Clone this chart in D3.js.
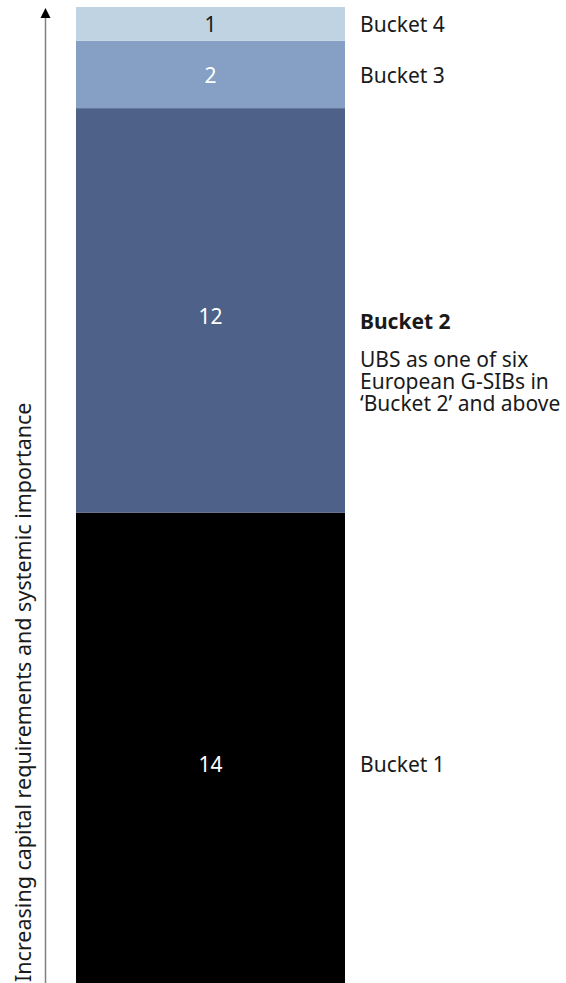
<!DOCTYPE html>
<html>
<head>
<meta charset="utf-8">
<script src="https://cdn.jsdelivr.net/npm/d3@7"></script>
<style>
  html, body { margin: 0; padding: 0; background: #fff; }
  svg { display: block; font-family: "Noto Sans", "Open Sans", sans-serif; }
</style>
</head>
<body>
<svg id="chart" width="566" height="983"></svg>
<script>
// Data (bottom to top)
const buckets = ["Bucket 1", "Bucket 2", "Bucket 3", "Bucket 4"];
const counts = [14, 12, 2, 1];
const colors = ["#000000", "#4e6188", "#85a0c4", "#bfd3e3"];
const numberColors = ["#ffffff", "#ffffff", "#ffffff", "#1a1a1a"];
const highlightBucket = "Bucket 2";
const highlightNote = ["UBS as one of six", "European G-SIBs in", "\u2018Bucket 2\u2019 and above"];
const axisTitle = "Increasing capital requirements and systemic importance";

const W = 566, H = 983;
const FS = 21;
const svg = d3.select("#chart");

const total = d3.sum(counts);
let acc = 0;
const segs = counts.map((v, i) => {
  const s = { bucket: buckets[i], value: v, y0: acc, y1: acc + v, color: colors[i], tc: numberColors[i] };
  acc += v;
  return s;
});

const y = d3.scaleLinear().domain([0, total]).range([984.5, 7]);
const yLabel = d3.scaleLinear().domain([0, total]).range([1006, 7]);
const x = d3.scaleBand().domain(["G-SIBs"]).range([76, 345]).padding(0);

// bars
svg.append("g").selectAll("rect").data(segs).join("rect")
  .attr("x", x("G-SIBs"))
  .attr("width", x.bandwidth())
  .attr("y", d => y(d.y1))
  .attr("height", d => y(d.y0) - y(d.y1))
  .attr("fill", d => d.color);

// numbers
svg.append("g").selectAll("text").data(segs).join("text")
  .attr("x", x("G-SIBs") + x.bandwidth() / 2)
  .attr("y", d => yLabel((d.y0 + d.y1) / 2))
  .attr("dy", "0.35em")
  .attr("text-anchor", "middle")
  .attr("font-size", FS)
  .attr("fill", d => d.tc)
  .text(d => d.value);

// right labels
const lab = svg.append("g");
const LX = 360;
segs.forEach(d => {
  const cy = yLabel((d.y0 + d.y1) / 2);
  if (d.bucket === highlightBucket) {
    lab.append("text")
      .attr("x", LX).attr("y", cy + 5).attr("dy", "0.35em")
      .attr("font-size", FS).attr("font-weight", "bold").attr("fill", "#1a1a1a")
      .text(d.bucket);
    highlightNote.forEach((t, i) => {
      lab.append("text")
        .attr("x", LX).attr("y", cy + 43 + i * 22).attr("dy", "0.35em")
        .attr("font-size", FS).attr("fill", "#1a1a1a")
        .text(t);
    });
  } else {
    lab.append("text")
      .attr("x", LX).attr("y", cy).attr("dy", "0.35em")
      .attr("font-size", FS).attr("fill", "#1a1a1a")
      .text(d.bucket);
  }
});

// axis arrow
const ax = 45.5;
svg.append("line")
  .attr("x1", ax).attr("x2", ax)
  .attr("y1", 17).attr("y2", H)
  .attr("stroke", "#808080").attr("stroke-width", 1.5);
svg.append("path")
  .attr("d", `M${ax},8 L${ax - 5},18 L${ax + 5},18 Z`)
  .attr("fill", "#000");

// axis title
svg.append("text")
  .attr("transform", `translate(31, 982) rotate(-90)`)
  .attr("text-anchor", "start")
  .attr("font-size", 21.5)
  .attr("fill", "#1a1a1a")
  .text(axisTitle);
</script>
</body>
</html>
